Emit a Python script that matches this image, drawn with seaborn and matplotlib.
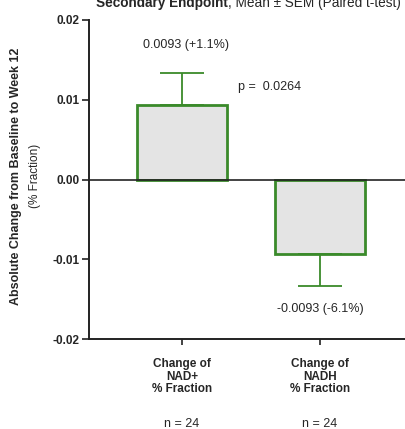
import numpy as np
import pandas as pd
import seaborn as sns
import matplotlib.pyplot as plt

# values
categories = ["Change of\nNAD+\n% Fraction", "Change of\nNADH\n% Fraction"]
means = [0.0093, -0.0093]
sems = [0.0040, 0.0041]
bar_labels = ["0.0093 (+1.1%)", "-0.0093 (-6.1%)"]
n_labels = ["n = 24", "n = 24"]
p_text = "p =  0.0264"

df = pd.DataFrame({"cat": categories, "mean": means, "sem": sems})

sns.set_theme(style="ticks")
plt.rcParams['font.family'] = ['Liberation Sans', 'DejaVu Sans']

green = "#3a8a2a"
fig = plt.figure(figsize=(4.06, 4.29), dpi=100)
ax = fig.add_axes([89/406, (429-339)/429, (406-89)/406, (339-20)/429])

sns.barplot(data=df, x="cat", y="mean", ax=ax, color="#e4e4e4", width=0.65,
            edgecolor=green, linewidth=2, errorbar=None, saturation=1)
# one-sided error bars (away from zero)
for i, (m, s) in enumerate(zip(means, sems)):
    lower = [0] if m > 0 else [s]
    upper = [s] if m > 0 else [0]
    ax.errorbar(i, m, yerr=[lower, upper], fmt="none", ecolor=green,
                elinewidth=1.3, capsize=16, capthick=1.3, zorder=1)

ax.axhline(0, color="#222222", lw=1.2, zorder=3)
ax.set_xlim(-0.674, 1.623)
ax.set_ylim(-0.02, 0.02)
ax.set_yticks([-0.02, -0.01, 0.0, 0.01, 0.02])
ax.set_yticklabels(["-0.02", "-0.01", "0.00", "0.01", "0.02"], fontweight="bold", fontsize=8.5)
ax.set_xticks([0, 1])
ax.set_xticklabels(categories, fontweight="bold", fontsize=8.5, linespacing=1.05)
ax.tick_params(axis="both", length=5, width=1.2, color="#222222", pad=2)
ax.tick_params(axis="x", length=4, pad=10)
for sp in ["top", "right"]:
    ax.spines[sp].set_visible(False)
for sp in ["left", "bottom"]:
    ax.spines[sp].set_linewidth(1.4)
    ax.spines[sp].set_color("#222222")
ax.set_xlabel("")
ax.set_ylabel("")
fig.text(16/406, 1 - 176/429, "Absolute Change from Baseline to Week 12", rotation=90,
         ha="center", va="center", fontsize=9, fontweight="bold")
fig.text(35/406, 1 - 176/429, "(% Fraction)", rotation=90,
         ha="center", va="center", fontsize=8.5)

# annotations
ax.text(0.03, 0.0169, bar_labels[0], ha="center", va="center", fontsize=9)
ax.text(1.0, -0.0162, bar_labels[1], ha="center", va="center", fontsize=9)
ax.text(0.406, 0.01166, p_text, ha="left", va="center", fontsize=9)
for i, t in enumerate(n_labels):
    ax.text(i, -0.0306, t, ha="center", va="center", fontsize=9, clip_on=False)

# title: bold part + normal part, partly cut at the top like the original
t1 = fig.text(96/406, 0.992, "Secondary Endpoint", ha="left", va="center",
              fontsize=9.8, fontweight="bold")
fig.canvas.draw()
bb = t1.get_window_extent()
fig.text(bb.x1 / fig.bbox.width, 0.992, ", Mean \u00b1 SEM (Paired t-test)",
         ha="left", va="center", fontsize=9.8)

fig.savefig("out.png", dpi=100)
